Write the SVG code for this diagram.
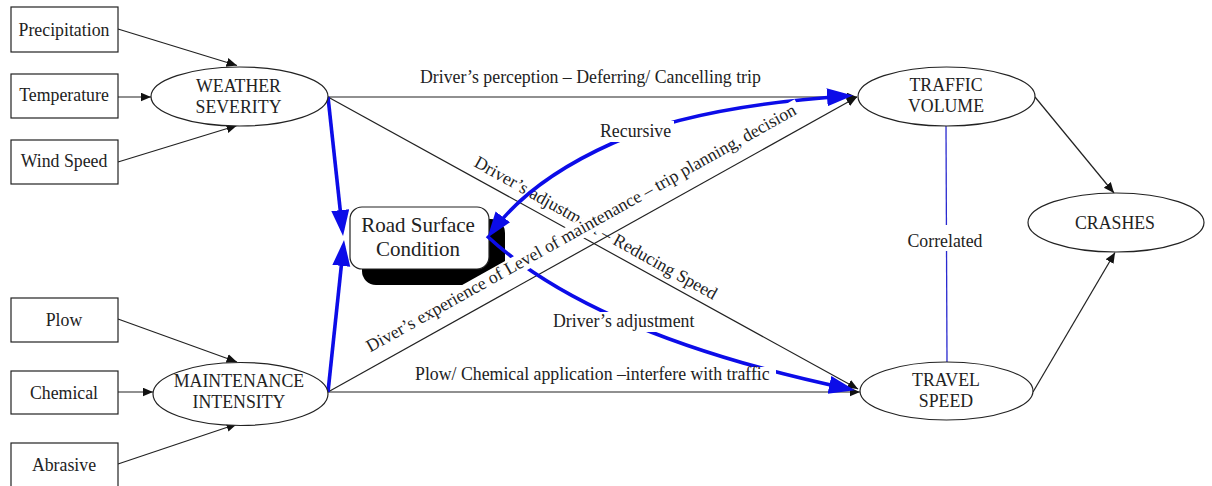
<svg xmlns="http://www.w3.org/2000/svg" width="1212" height="486" viewBox="0 0 1212 486">
  <style>
    .t { font-family: "Liberation Serif", "Times New Roman", serif; font-size: 17.8px; fill: #222; }
    .c { text-anchor: middle; }
    .big { font-size: 21px; }
    .box { fill: #fff; stroke: #222; stroke-width: 1.2; }
    .ell { fill: #fff; stroke: #222; stroke-width: 1.2; }
    .ln { fill: none; stroke: #222; stroke-width: 1.2; marker-end: url(#ah); }
    .bl { fill: none; stroke: #0c0ce8; stroke-width: 3.6; }
    .bg { fill: #fff; }
  </style>
  <defs>
    <marker id="ah" markerUnits="userSpaceOnUse" markerWidth="11" markerHeight="10" refX="10.5" refY="4.5" orient="auto">
      <path d="M0,0 L10.5,4.5 L0,9 z" fill="#111"/>
    </marker>
    <marker id="bh" markerUnits="userSpaceOnUse" markerWidth="27" markerHeight="19" refX="20" refY="9" orient="auto-start-reverse">
      <path d="M0,0 L26,9 L0,18 z" fill="#0c0ce8"/>
    </marker>
  </defs>
  <rect width="1212" height="486" fill="#fff"/>

  <!-- central node: road surface condition with drop shadow -->
  <g id="road-surface">
    <rect x="362" y="219" width="143" height="66" rx="14" fill="#000"/>
    <rect x="350" y="207" width="139" height="62" rx="12" class="box"/>
    <text class="t c big" x="418" y="232">Road Surface</text>
    <text class="t c big" x="418" y="256">Condition</text>
  </g>

  <!-- connectors -->
  <g id="connectors">
    <line class="ln" x1="118" y1="29" x2="237" y2="65.5"/>
    <line class="ln" x1="118" y1="97" x2="151" y2="97"/>
    <line class="ln" x1="118" y1="162" x2="237" y2="125.5"/>
    <line class="ln" x1="118" y1="319" x2="237" y2="362"/>
    <line class="ln" x1="118" y1="392" x2="153" y2="392"/>
    <line class="ln" x1="118" y1="464" x2="237" y2="424"/>

    <line class="ln" x1="328" y1="97" x2="857" y2="97"/>
    <line class="ln" x1="328" y1="97" x2="858" y2="389"/>
    <line class="ln" x1="328" y1="392" x2="857" y2="97"/>
    <line class="ln" x1="328" y1="392" x2="860" y2="392"/>

    <line class="ln" x1="1035" y1="97" x2="1114" y2="193"/>
    <line class="ln" x1="1033" y1="392" x2="1115" y2="252.5"/>

    <line x1="946" y1="126" x2="947" y2="362" stroke="#2a2ad0" stroke-width="1.3"/>

    <text class="t" transform="translate(593,233) rotate(29.2)" text-anchor="middle">Driver’s adjustment – Reducing Speed</text>

    <line class="bl" x1="328" y1="97" x2="342.4" y2="230" marker-end="url(#bh)"/>
    <line class="bl" x1="328" y1="392" x2="343.4" y2="246" marker-end="url(#bh)"/>
    <path class="bl" d="M491,233 Q530,180 613,143 T847,96" marker-start="url(#bh)" marker-end="url(#bh)"/>
    <path class="bl" d="M487,236 C540,285 640,345 849,389" marker-end="url(#bh)"/>

    <g transform="translate(584,233) rotate(-29.2)">
      <rect class="bg" x="-249" y="-14" width="498" height="18.5"/>
      <text class="t c" x="0" y="0">Diver’s experience of Level of maintenance – trip planning, decision</text>
    </g>
    <rect class="bg" x="597" y="121" width="77" height="21"/>
    <text class="t" x="600" y="137">Recursive</text>
    <rect class="bg" x="550" y="312" width="148" height="20"/>
    <text class="t" x="553" y="327">Driver’s adjustment</text>
    <text class="t" x="420" y="83">Driver’s perception – Deferring/ Cancelling trip</text>
    <rect class="bg" x="414" y="367" width="362" height="17"/>
    <text class="t" x="415" y="380">Plow/ Chemical application –interfere with traffic</text>
    <rect class="bg" x="905" y="225" width="82" height="26"/>
    <text class="t c" x="945" y="247">Correlated</text>
  </g>

  <!-- input factor boxes -->
  <g id="precipitation">
    <rect class="box" x="11" y="7" width="107" height="45"/>
    <text class="t c" x="64" y="35.5">Precipitation</text>
  </g>
  <g id="temperature">
    <rect class="box" x="11" y="74" width="107" height="44"/>
    <text class="t c" x="64" y="101">Temperature</text>
  </g>
  <g id="wind-speed">
    <rect class="box" x="11" y="140" width="107" height="44"/>
    <text class="t c" x="64" y="167">Wind Speed</text>
  </g>
  <g id="plow">
    <rect class="box" x="11" y="298" width="107" height="44"/>
    <text class="t c" x="64" y="326">Plow</text>
  </g>
  <g id="chemical">
    <rect class="box" x="11" y="371" width="107" height="43"/>
    <text class="t c" x="64" y="398.5">Chemical</text>
  </g>
  <g id="abrasive">
    <rect class="box" x="11" y="443" width="107" height="46"/>
    <text class="t c" x="64" y="470.5">Abrasive</text>
  </g>

  <!-- latent factor ellipses -->
  <g id="weather-severity">
    <ellipse class="ell" cx="239.5" cy="96.5" rx="88.5" ry="29.5"/>
    <text class="t c" x="238.5" y="92">WEATHER</text>
    <text class="t c" x="238.5" y="113">SEVERITY</text>
  </g>
  <g id="maintenance-intensity">
    <ellipse class="ell" cx="240.5" cy="394" rx="87.5" ry="31.5"/>
    <text class="t c" x="239" y="387">MAINTENANCE</text>
    <text class="t c" x="239" y="408">INTENSITY</text>
  </g>
  <g id="traffic-volume">
    <ellipse class="ell" cx="946.5" cy="96.5" rx="88.5" ry="29.5"/>
    <text class="t c" x="946" y="91">TRAFFIC</text>
    <text class="t c" x="946" y="112">VOLUME</text>
  </g>
  <g id="travel-speed">
    <ellipse class="ell" cx="946.5" cy="391" rx="86.5" ry="29"/>
    <text class="t c" x="946" y="386">TRAVEL</text>
    <text class="t c" x="946" y="407">SPEED</text>
  </g>
  <g id="crashes">
    <ellipse class="ell" cx="1116" cy="222.5" rx="88" ry="29.5"/>
    <text class="t c" x="1115" y="228.5">CRASHES</text>
  </g>
</svg>
